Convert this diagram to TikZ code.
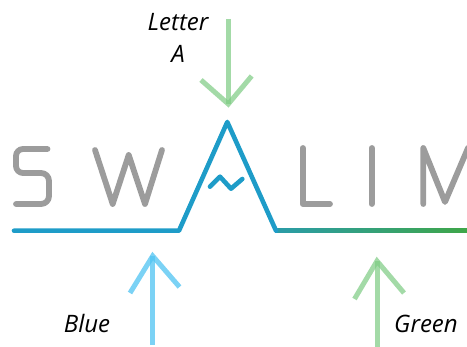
\documentclass[tikz,border=0pt]{standalone}
\usepackage{fontspec}
\setmainfont{Open Sans}
\usetikzlibrary{calc}
\definecolor{logogrey}{HTML}{9C9C9C}
\definecolor{logoblue}{HTML}{1E9CC8}
\definecolor{logoteal}{HTML}{2A9CA8}
\definecolor{logogreen}{HTML}{3FA648}
\definecolor{arrowblue}{HTML}{4FC3F2}
\definecolor{arrowgreen}{HTML}{7CCB82}
\tikzset{
  letterstroke/.style={draw=logogrey,line width=5.8pt,line cap=round,line join=round},
  logostroke/.style={draw=logoblue,line width=4.6pt,line cap=round,line join=round},
  bluearrow/.style={draw=arrowblue,line width=5pt,opacity=.75},
  greenarrow/.style={draw=arrowgreen,line width=5pt,opacity=.7},
  caption/.style={font=\fontsize{24}{24}\selectfont\itshape,text=black,inner sep=0pt,anchor=base}
}
\begin{document}
\begin{tikzpicture}[x=1pt,y=-1pt]
\useasboundingbox (0,0) rectangle (467,347);
% grey letters
\draw[letterstroke] (47.5,149) -- (23,149) arc[start angle=270,end angle=180,radius=7] -- (16,166) arc[start angle=180,end angle=90,radius=7] -- (41,173) arc[start angle=270,end angle=360,radius=8] -- (49,196) arc[start angle=0,end angle=90,radius=8] -- (16,204);
\draw[letterstroke] (95,150) -- (112.7,204) -- (128.7,155) -- (145,204) -- (162,150);
\draw[letterstroke] (302.7,148) -- (302.7,204) -- (330,204);
\draw[letterstroke] (371.7,148) -- (371.7,204);
\draw[letterstroke] (423.3,204) -- (423.3,148) -- (445,202) -- (468,148);
% logo line
\fill[left color=logoteal,middle color=logoteal!55!logogreen,right color=logogreen] (276,228.6) rectangle (467,232.8);
\coordinate (start) at (14,230.7);
\coordinate (footL) at (179,230.7);
\coordinate (apex) at (227.3,122);
\coordinate (footR) at (276,230.7);
\draw[logostroke] (start) -- (footL) -- (apex) -- (footR);
\draw[logostroke] (210,186.7) -- (220,176.7) -- (231,188.7) -- (242.3,179);
% arrows
\coordinate (aTail) at (228.3,19);
\coordinate (aTip) at (228.3,104);
\coordinate (aL) at (201,80);
\coordinate (aR) at (251.7,76);
\draw[greenarrow] (aTail) -- (aTip);
\draw[greenarrow] (aL) -- (aTip) -- (aR);
\coordinate (bTail) at (152.7,345);
\coordinate (bTip) at (152.7,256);
\coordinate (bL) at (130,293);
\coordinate (bR) at (179.5,287);
\draw[bluearrow] (bTail) -- (bTip);
\draw[bluearrow] (bL) -- (bTip) -- (bR);
\coordinate (gTail) at (377,347);
\coordinate (gTip) at (377,261);
\coordinate (gL) at (354.5,299);
\coordinate (gR) at (404,293);
\draw[greenarrow] (gTail) -- (gTip);
\draw[greenarrow] (gL) -- (gTip) -- (gR);
% captions
\node[caption] (letter) at (178,31) {Letter};
\node[caption] (a) at (178,63) {A};
\node[caption] (blue) at (87,333) {Blue};
\node[caption] (green) at (426,333) {Green};
\end{tikzpicture}
\end{document}
